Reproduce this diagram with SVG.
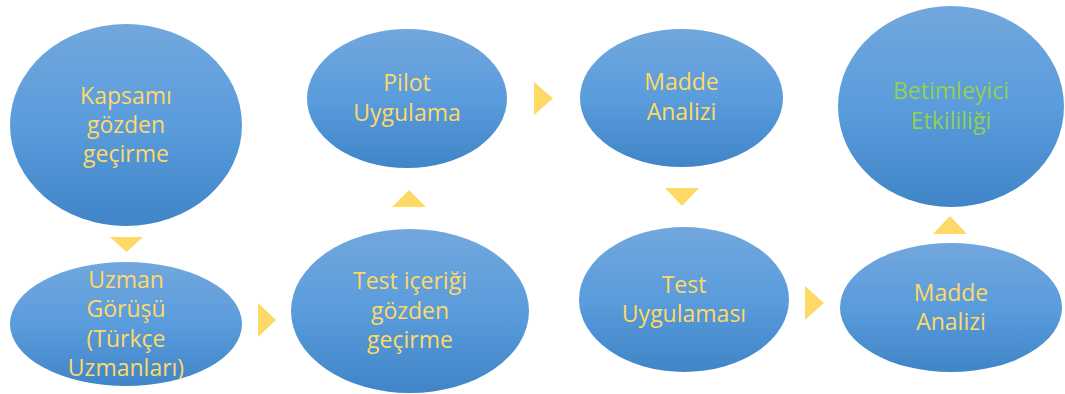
<svg xmlns="http://www.w3.org/2000/svg" width="1065" height="394" viewBox="0 0 1065 394">
<defs>
<linearGradient id="g" x1="0" y1="0" x2="0" y2="1">
<stop offset="0" stop-color="#72a7dd"/>
<stop offset="0.5" stop-color="#5a9cdc"/>
<stop offset="1" stop-color="#3f85c7"/>
</linearGradient>
</defs>
<style>
.n{fill:url(#g)}
.t{font-family:"Open Sans","Liberation Sans",sans-serif;font-size:23px;fill:#ffd966;text-anchor:middle}
.gr{fill:#92d050}
.a{fill:#ffd966}
</style>
<rect width="1065" height="394" fill="#ffffff"/>
<g id="n1"><ellipse class="n" cx="126" cy="125" rx="116" ry="101"/>
<text class="t"><tspan x="126" y="104">Kapsamı</tspan><tspan x="126" y="133">gözden</tspan><tspan x="126" y="162">geçirme</tspan></text></g>
<g id="n2"><ellipse class="n" cx="126" cy="324" rx="116" ry="62"/>
<text class="t"><tspan x="126" y="288">Uzman</tspan><tspan x="126" y="317">Görüşü</tspan><tspan x="126" y="347">(Türkçe</tspan><tspan x="126" y="376">Uzmanları)</tspan></text></g>
<g id="n3"><ellipse class="n" cx="410" cy="311" rx="119" ry="82"/>
<text class="t"><tspan x="410" y="289">Test içeriği</tspan><tspan x="410" y="319">gözden</tspan><tspan x="410" y="348">geçirme</tspan></text></g>
<g id="n4"><ellipse class="n" cx="407" cy="98.5" rx="100" ry="69.5"/>
<text class="t"><tspan x="407" y="91">Pilot</tspan><tspan x="407" y="121">Uygulama</tspan></text></g>
<g id="n5"><ellipse class="n" cx="681.5" cy="98" rx="101.5" ry="69"/>
<text class="t"><tspan x="681.5" y="90">Madde</tspan><tspan x="681.5" y="120">Analizi</tspan></text></g>
<g id="n6"><ellipse class="n" cx="684" cy="299.5" rx="105" ry="72.5"/>
<text class="t"><tspan x="684" y="293">Test</tspan><tspan x="684" y="322">Uygulaması</tspan></text></g>
<g id="n7"><ellipse class="n" cx="951" cy="307.5" rx="111" ry="64.5"/>
<text class="t"><tspan x="951" y="301">Madde</tspan><tspan x="951" y="330">Analizi</tspan></text></g>
<g id="n8"><ellipse class="n" cx="951" cy="106.5" rx="113" ry="100.5"/>
<text class="t gr"><tspan x="951" y="99">Betimleyici</tspan><tspan x="951" y="129">Etkililiği</tspan></text></g>
<g id="connectors">
<polygon class="a" points="110,237 143,237 126.5,252"/>
<polygon class="a" points="258,303 258,337 276,320"/>
<polygon class="a" points="392,207 426,207 409,190"/>
<polygon class="a" points="534,82 534,115 553,98.5"/>
<polygon class="a" points="665,188 699,188 682,206"/>
<polygon class="a" points="805,286 805,320 824,303"/>
<polygon class="a" points="933,234 967,234 950,216"/>
</g>
</svg>
